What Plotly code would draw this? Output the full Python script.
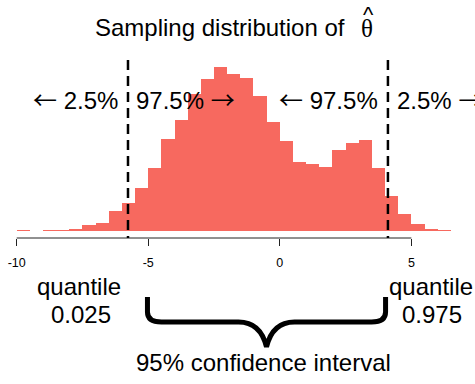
import plotly.graph_objects as go

# ---- data ----
bin_centers = [-9.75, -9.25, -8.75, -8.25, -7.75, -7.25, -6.75, -6.25, -5.75, -5.25,
               -4.75, -4.25, -3.75, -3.25, -2.75, -2.25, -1.75, -1.25, -0.75, -0.25,
               0.25, 0.75, 1.25, 1.75, 2.25, 2.75, 3.25, 3.75, 4.25, 4.75,
               5.25, 5.75, 6.25]
bin_counts = [1, 0, 1, 2, 6, 17, 24, 60, 84, 127,
              189, 275, 331, 410, 454, 490, 469, 457, 405, 327,
              270, 205, 200, 192, 242, 262, 272, 189, 105, 51,
              21, 5, 2]
bin_width = 0.5
tick_vals = [-10, -5, 0, 5]
tick_text = ["-10", "-5", "0", "5"]
q_lo, q_hi = -5.77, 4.11
brace_lo, brace_hi = -5.03, 4.02

W, H = 475, 384
X0_PX, UNIT_PX = 16.7, 26.31      # px of x=-10 and px per unit
BASE_PX, Y_PX = 230.7, 1 / 3.0    # px of y=0 and px per count
x_range = [-10 - X0_PX / UNIT_PX, -10 + (W - X0_PX) / UNIT_PX]
y_range = [-(H - BASE_PX) / Y_PX, BASE_PX / Y_PX]

def X(px):
    return -10 + (px - X0_PX) / UNIT_PX

def Y(py):
    return (BASE_PX - py) / Y_PX

SANS = "Liberation Sans, Arial, Helvetica, sans-serif"
SERIF = "Liberation Serif, Times New Roman, serif"
BAR = "#F7695F"
LARR = '<span style="font-family:Noto Sans CJK SC">←</span>'
RARR = '<span style="font-family:Noto Sans CJK SC">→</span>'

fig = go.Figure()
fig.add_trace(go.Bar(x=bin_centers, y=bin_counts, width=bin_width,
                     marker=dict(color=BAR, line=dict(width=0)),
                     hoverinfo="skip", showlegend=False))

axis_y = Y(238)
shapes = [
    dict(type="line", xref="x", yref="y", x0=tick_vals[0], x1=tick_vals[-1],
         y0=axis_y, y1=axis_y, line=dict(color="#222", width=1)),
    dict(type="line", xref="x", yref="y", x0=q_lo, x1=q_lo, y0=Y(60), y1=axis_y,
         line=dict(color="black", width=2.5, dash="10px,6px")),
    dict(type="line", xref="x", yref="y", x0=q_hi, x1=q_hi, y0=Y(60), y1=axis_y,
         line=dict(color="black", width=2.5, dash="10px,6px")),
]

# curly brace (pixel geometry mapped into data coords)
def P(px, py):
    return f"{X(px):.4f},{Y(py):.4f}"

xl, xr = 16.7 + (brace_lo + 10) * UNIT_PX, 16.7 + (brace_hi + 10) * UNIT_PX
xm = (xl + xr) / 2
top, mid, tip = 297, 322, 347
path = (f"M {P(xl, top)} L {P(xl, mid - 10)} "
        f"Q {P(xl, mid)} {P(xl + 14, mid)} "
        f"L {P(xm - 28, mid)} "
        f"Q {P(xm - 6, mid)} {P(xm, tip)} "
        f"Q {P(xm + 6, mid)} {P(xm + 28, mid)} "
        f"L {P(xr - 14, mid)} "
        f"Q {P(xr, mid)} {P(xr, mid - 10)} "
        f"L {P(xr, top)}")
shapes.append(dict(type="path", xref="x", yref="y", path=path,
                   line=dict(color="black", width=5)))

def txt(x, py, s, size=24, anchor="center", family=SANS):
    return dict(x=x, y=Y(py), xref="x", yref="y", text=s, showarrow=False,
                xanchor=anchor, yanchor="middle",
                font=dict(family=family, size=size, color="black"))

annotations = [
    txt(X(220), 27.7, "Sampling distribution of"),
    txt(X(367), 28.5, "θ", size=25, family=SERIF),
    txt(X(368), 14, "^", size=22),
    txt(X(120), 98.4, f"{LARR} 2.5%", anchor="right"),
    txt(X(134), 98.4, f"97.5% {RARR}", anchor="left"),
    txt(X(380), 98.4, f"{LARR} 97.5%", anchor="right"),
    txt(X(395), 98.4, f"2.5% {RARR}", anchor="left"),
    txt(X(78.5), 286, "quantile"),
    txt(X(81), 314.7, "0.025"),
    txt(X(430.5), 286, "quantile"),
    txt(X(432), 314.7, "0.975"),
    txt(X(263), 362, "95% confidence interval"),
]

fig.update_layout(
    width=W, height=H, margin=dict(l=0, r=0, t=0, b=0),
    paper_bgcolor="white", plot_bgcolor="white",
    bargap=0, shapes=shapes, annotations=annotations,
    xaxis=dict(range=x_range, fixedrange=True, showgrid=False, zeroline=False,
               showline=False, anchor="free", position=1 - 238 / H,
               ticks="outside", ticklen=7, tickwidth=1, tickcolor="#222",
               tickvals=tick_vals, ticktext=tick_text, ticklabelstandoff=6,
               tickfont=dict(family=SANS, size=12.5, color="black")),
    yaxis=dict(range=y_range, fixedrange=True, visible=False),
)

fig.write_html("out.html", config={"displayModeBar": False})
